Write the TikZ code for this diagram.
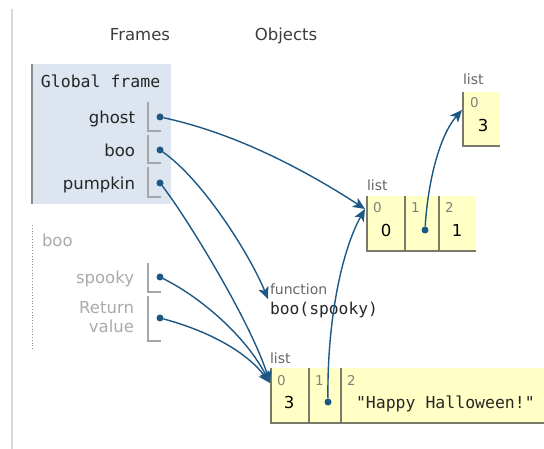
\documentclass[tikz,border=0pt]{standalone}
\usepackage{fontspec}
\setmainfont{DejaVu Sans}
\setmonofont{DejaVu Sans Mono}
\usetikzlibrary{arrows.meta}
\usetikzlibrary{positioning}
\definecolor{PtrBlue}{HTML}{1D5783}
\definecolor{FrameBlue}{HTML}{DCE5F0}
\definecolor{HeapYellow}{HTML}{FFFFC6}
\definecolor{CellLine}{HTML}{7A7A6A}
\definecolor{HeadGrey}{HTML}{3C3C3C}
\definecolor{FadedGrey}{HTML}{AAAAAA}
\definecolor{IndexGrey}{HTML}{808080}

\tikzset{
  every node/.style={inner sep=0pt, outer sep=0pt},
  bigtext/.style={font=\fontsize{16.5}{20}\selectfont},
  heading/.style={bigtext, text=HeadGrey, anchor=base},
  varname/.style={bigtext, text=black!85, anchor=base east},
  fadedname/.style={bigtext, text=FadedGrey, anchor=base east},
  codetext/.style={font=\ttfamily\fontsize{16.3}{20}\selectfont, text=black!85, anchor=base west},
  typelabel/.style={font=\fontsize{14}{16}\selectfont, text=black!60, anchor=base west},
  idx/.style={font=\fontsize{13.5}{16}\selectfont, text=IndexGrey, anchor=base west},
  val/.style={bigtext, text=black, anchor=base},
  bracket/.style={draw=black!35, line width=1.2pt},
  cellrule/.style={draw=CellLine, line width=1.4pt},
  ptr/.style={circle, fill=PtrBlue, minimum size=7pt},
  link/.style={draw=PtrBlue, line width=1.4pt, -{Stealth[length=12pt,width=10.5pt,inset=3pt]}},
}

\begin{document}
\begin{tikzpicture}[x=1pt, y=-1pt]
  \useasboundingbox (0,0) rectangle (544,449);
  \draw[draw=black!15, line width=1.5pt] (12,9) -- (12,449);

  \node[heading] (framesHead) at (140,41) {Frames};
  \node[heading] (objectsHead) at (286,41) {Objects};

  % global frame
  \fill[FrameBlue] (32,64) rectangle (171,204);
  \draw[draw=black!45, line width=1.3pt] (32,64) -- (32,204);
  \node[codetext, font=\ttfamily\fontsize{16.5}{20}\selectfont] (globalTitle) at (41,88) {Global frame};
  \node[varname] (ghostName) at (135,124) {ghost};
  \node[varname] (booName) at (135,157) {boo};
  \node[varname] (pumpkinName) at (135,190) {pumpkin};
  \draw[bracket] (148,102) |- (161,131);
  \draw[bracket] (148,135) |- (161,163);
  \draw[bracket] (148,167) |- (161,197);

  % boo frame
  \draw[dotted, draw=black!45, line width=0.8pt] (32,225) -- (32,350);
  \node[bigtext, text=FadedGrey, anchor=base west] (booTitle) at (42,247) {boo};
  \node[fadedname] (spookyName) at (134,284) {spooky};
  \node[fadedname] (returnName) at (134,314) {Return};
  \node[fadedname] (valueName) at (134,333) {value};
  \draw[bracket] (148,263) |- (161,292);
  \draw[bracket] (148,296) |- (161,341);

  % function object
  \node[typelabel] (funcType) at (270,295) {function};
  \node[codetext] (funcSig) at (270,315) {boo(spooky)};
  \coordinate (funcIn) at (268,299);

  % list [3]
  \node[typelabel] (innerType) at (463,85) {list};
  \fill[HeapYellow] (463,92) rectangle (500,146);
  \draw[cellrule] (463,92) |- (500,146);
  \node[idx] (innerIdx0) at (470,108) {0};
  \node[val] (innerVal0) at (483,132) {3};
  \coordinate (innerIn) at (462,110);

  % list [0, *, 1]
  \node[typelabel] (ghostType) at (367,191) {list};
  \fill[HeapYellow] (367,196) rectangle (476,251);
  \draw[cellrule] (367,196) |- (476,251);
  \draw[cellrule] (405,196) -- (405,251);
  \draw[cellrule] (439,196) -- (439,251);
  \node[idx] (ghostIdx0) at (373,213) {0};
  \node[idx] (ghostIdx1) at (411,213) {1};
  \node[idx] (ghostIdx2) at (445,213) {2};
  \node[val] (ghostVal0) at (386,237) {0};
  \node[val] (ghostVal2) at (457,237) {1};
  \coordinate (ghostIn) at (365,209);

  % list [3, *, "Happy Halloween!"]
  \node[typelabel] (pumpkinType) at (270,363) {list};
  \fill[HeapYellow] (271,368) rectangle (544,423);
  \draw[cellrule] (271,368) |- (544,423);
  \draw[cellrule] (309,368) -- (309,423);
  \draw[cellrule] (341,368) -- (341,423);
  \node[idx] (pumpkinIdx0) at (277,385) {0};
  \node[idx] (pumpkinIdx1) at (315,385) {1};
  \node[idx] (pumpkinIdx2) at (347,385) {2};
  \node[val] (pumpkinVal0) at (289,408) {3};
  \node[codetext, font=\ttfamily\fontsize{16.5}{20}\selectfont] (pumpkinVal2) at (356,408) {"Happy Halloween!"};
  \coordinate (pumpkinIn) at (270,383);

  % pointers
  \node[ptr] (ghostPtr) at (160,117) {};
  \node[ptr] (booPtr) at (160,150) {};
  \node[ptr] (pumpkinPtr) at (160,183) {};
  \node[ptr] (spookyPtr) at (160,277) {};
  \node[ptr] (returnPtr) at (160,318) {};
  \node[ptr] (ghostPtr1) at (425,230) {};
  \node[ptr] (pumpkinPtr1) at (328,402) {};

  \draw[link] (ghostPtr) .. controls (235,133) and (305,170) .. (ghostIn);
  \draw[link] (booPtr) .. controls (203,180) and (250,255) .. (funcIn);
  \draw[link] (pumpkinPtr) .. controls (185,215) and (250,320) .. (pumpkinIn);
  \draw[link] (spookyPtr) .. controls (200,297) and (245,335) .. (pumpkinIn);
  \draw[link] (returnPtr) .. controls (205,330) and (245,350) .. (pumpkinIn);
  \draw[link] (ghostPtr1) .. controls (428,180) and (440,135) .. (innerIn);
  \draw[link] (pumpkinPtr1) .. controls (327,320) and (342,250) .. (ghostIn);
\end{tikzpicture}
\end{document}
